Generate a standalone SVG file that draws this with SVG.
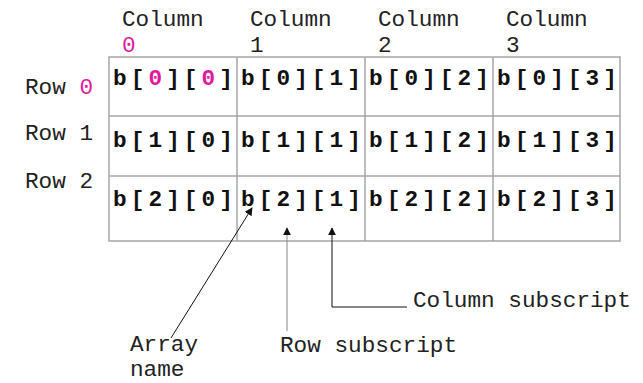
<svg xmlns="http://www.w3.org/2000/svg" width="643" height="383" viewBox="0 0 643 383">
  <style>
    .lbl { font-family: "Liberation Mono", "Courier New", monospace; font-size: 22.7px; fill: #222; }
    .cell { font-family: "Liberation Mono", "Courier New", monospace; font-size: 22.7px; font-weight: bold; fill: #111; letter-spacing: 4.1px; }
    .hi { fill: #e0189c; }
    .grid { stroke: #a6a6a6; stroke-width: 1.5; fill: none; }
    .lead { stroke: #111; stroke-width: 1; fill: none; }
    .leadg { stroke: #888; stroke-width: 1; fill: none; }
  </style>
  <defs>
    <marker id="head" viewBox="0 0 10 10" refX="9" refY="5" markerWidth="8" markerHeight="8" markerUnits="userSpaceOnUse" orient="auto">
      <path d="M0,0 L10,5 L0,10 Z" fill="#111"/>
    </marker>
  </defs>
  <rect width="643" height="383" fill="#fff"/>

  <!-- column headings -->
  <g id="col-labels" class="lbl">
    <text x="122" y="26">Column</text><text x="122" y="52" class="hi">0</text>
    <text x="250" y="26">Column</text><text x="250" y="52">1</text>
    <text x="378" y="26">Column</text><text x="378" y="52">2</text>
    <text x="506" y="26">Column</text><text x="506" y="52">3</text>
  </g>

  <!-- row headings -->
  <g id="row-labels" class="lbl">
    <text x="25" y="94">Row <tspan class="hi">0</tspan></text>
    <text x="25" y="140">Row 1</text>
    <text x="25" y="188">Row 2</text>
  </g>

  <!-- array grid -->
  <g id="grid" class="grid">
    <rect x="109" y="57" width="511" height="184"/>
    <line x1="237" y1="57" x2="237" y2="241"/>
    <line x1="365" y1="57" x2="365" y2="241"/>
    <line x1="493" y1="57" x2="493" y2="241"/>
    <line x1="109" y1="116" x2="620" y2="116"/>
    <line x1="109" y1="176" x2="620" y2="176"/>
  </g>

  <!-- cell contents -->
  <g id="cells" class="cell">
    <text x="113" y="85">b[<tspan class="hi">0</tspan>][<tspan class="hi">0</tspan>]</text>
    <text x="241" y="85">b[0][1]</text>
    <text x="369" y="85">b[0][2]</text>
    <text x="497" y="85">b[0][3]</text>
    <text x="113" y="147">b[1][0]</text>
    <text x="241" y="147">b[1][1]</text>
    <text x="369" y="147">b[1][2]</text>
    <text x="497" y="147">b[1][3]</text>
    <text x="113" y="206">b[2][0]</text>
    <text x="241" y="206">b[2][1]</text>
    <text x="369" y="206">b[2][2]</text>
    <text x="497" y="206">b[2][3]</text>
  </g>

  <!-- callout leaders -->
  <g id="connectors">
    <line class="lead" x1="171" y1="338" x2="252" y2="208" marker-end="url(#head)"/>
    <line class="leadg" x1="287" y1="331" x2="287" y2="228" marker-end="url(#head)"/>
    <polyline class="lead" points="407,307 332,307 332,228" marker-end="url(#head)"/>
  </g>

  <!-- callout texts -->
  <g id="callouts" class="lbl">
    <text x="413" y="307">Column subscript</text>
    <text x="280" y="352">Row subscript</text>
    <text x="130" y="351">Array</text>
    <text x="130" y="376">name</text>
  </g>
</svg>
